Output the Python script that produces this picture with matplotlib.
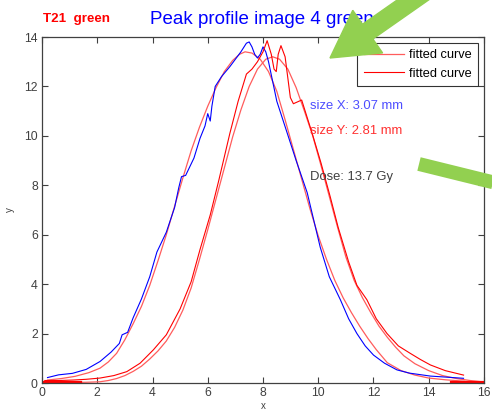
import matplotlib
matplotlib.use("Agg")
import matplotlib.pyplot as plt
from matplotlib.patches import FancyArrow
from matplotlib.lines import Line2D
from matplotlib.transforms import Affine2D

plt.rcParams['font.family'] = ['Liberation Sans', 'DejaVu Sans']

# measured profile X (blue)
meas_x_x = [0.2, 0.6, 1.1, 1.6, 2.1, 2.5, 2.8, 2.9, 3.1, 3.3, 3.6, 3.9, 4.16, 4.5, 4.8, 4.95,
            5.05, 5.2, 5.5, 5.72, 5.9, 6.0, 6.09, 6.15, 6.27, 6.5, 6.8, 7.0, 7.2, 7.4, 7.5,
            7.6, 7.7, 7.8, 7.9, 8.0, 8.1, 8.2, 8.5, 8.88, 9.2, 9.6, 10.07, 10.4, 10.8, 11.1,
            11.4, 11.7, 12.0, 12.4, 12.85, 13.3, 14.06, 14.6, 15.26]
meas_x_y = [0.22, 0.33, 0.39, 0.55, 0.87, 1.25, 1.6, 1.95, 2.05, 2.64, 3.4, 4.3, 5.3, 6.1, 7.1, 7.9,
            8.35, 8.4, 9.1, 9.9, 10.4, 10.9, 10.6, 11.2, 12.0, 12.4, 12.8, 13.1, 13.4, 13.75, 13.8,
            13.6, 13.3, 13.15, 13.3, 13.6, 13.4, 13.0, 11.4, 10.1, 9.0, 7.7, 5.5, 4.3, 3.37, 2.6,
            2.0, 1.5, 1.13, 0.8, 0.53, 0.4, 0.28, 0.24, 0.19]

# fitted curve X
fit_x_x = [0.2, 0.7, 1.2, 1.7, 2.1, 2.4, 2.7, 3.0, 3.3, 3.6, 3.9, 4.2, 4.5, 4.8, 5.1, 5.4, 5.7,
           6.0, 6.3, 6.6, 6.9, 7.15, 7.35, 7.6, 7.9, 8.2, 8.5, 8.8, 9.1, 9.4, 9.7, 10.0, 10.3,
           10.6, 10.9, 11.2, 11.5, 11.8, 12.1, 12.5, 13.0, 13.5, 14.0, 14.6, 15.3]
fit_x_y = [0.12, 0.18, 0.27, 0.42, 0.6, 0.85, 1.2, 1.75, 2.4, 3.1, 3.95, 4.95, 6.0, 7.15, 8.3,
           9.4, 10.35, 11.2, 11.95, 12.6, 13.05, 13.3, 13.4, 13.35, 13.1, 12.6, 11.8, 10.65,
           9.45, 8.25, 7.05, 5.95, 5.0, 4.15, 3.45, 2.85, 2.3, 1.8, 1.35, 0.82, 0.5, 0.32, 0.2,
           0.13, 0.07]

# measured profile Y (red)
meas_y_x = [0.1, 0.6, 1.13, 1.6, 2.1, 2.6, 3.07, 3.55, 4.03, 4.5, 5.0, 5.4, 5.72, 6.09, 6.4, 6.8,
            7.1, 7.4, 7.6, 7.8, 8.0, 8.15, 8.3, 8.4, 8.48, 8.55, 8.65, 8.8, 8.99, 9.1, 9.4, 9.78,
            10.1, 10.43, 10.72, 11.1, 11.4, 11.76, 12.1, 12.49, 12.9, 13.33, 13.7, 14.06, 14.6,
            15.26]
meas_y_y = [0.1, 0.1, 0.12, 0.15, 0.2, 0.3, 0.46, 0.8, 1.34, 1.95, 3.0, 4.1, 5.4, 6.8, 8.2, 10.1,
            11.4, 12.5, 12.7, 13.0, 13.4, 13.85, 13.3, 12.7, 12.6, 13.3, 13.65, 13.2, 11.55, 11.3,
            11.45, 10.1, 8.9, 7.55, 6.3, 4.9, 3.95, 3.37, 2.6, 2.0, 1.5, 1.2, 0.95, 0.73, 0.5,
            0.32]

# fitted curve Y
fit_y_x = [0.0, 1.0, 1.6, 2.1, 2.4, 2.7, 3.0, 3.3, 3.6, 3.9, 4.2, 4.5, 4.8, 5.1, 5.4, 5.7, 6.0,
           6.3, 6.6, 6.9, 7.2, 7.5, 7.8, 8.1, 8.35, 8.6, 8.9, 9.2, 9.5, 9.8, 10.1, 10.4, 10.7,
           11.0, 11.3, 11.6, 11.9, 12.2, 12.5, 12.8, 13.1, 13.5, 14.0, 14.5, 15.0, 15.5, 16.0]
fit_y_y = [0.02, 0.02, 0.03, 0.05, 0.1, 0.18, 0.3, 0.47, 0.68, 0.97, 1.3, 1.7, 2.25, 2.95, 3.85,
           5.0, 6.2, 7.45, 8.7, 9.95, 11.05, 12.0, 12.7, 13.1, 13.2, 13.1, 12.7, 11.95, 11.0,
           10.0, 8.8, 7.55, 6.3, 5.1, 4.15, 3.45, 2.85, 2.3, 1.85, 1.45, 1.1, 0.78, 0.5, 0.3,
           0.18, 0.1, 0.04]

# near-zero red segments along the bottom axis
base_left_x = [0.0, 1.4]
base_left_y = [0.03, 0.03]
base_right_x = [14.8, 16.0]
base_right_y = [0.03, 0.03]

xticks = [0, 2, 4, 6, 8, 10, 12, 14, 16]
yticks = [0, 2, 4, 6, 8, 10, 12, 14]

W, H = 492, 416
fig = plt.figure(figsize=(W / 100, H / 100), dpi=100)
ax = fig.add_axes([42 / W, 1 - 383 / H, (484 - 42) / W, (383 - 37) / H])

pale = '#ff5c5c'
ax.plot(fit_x_x, fit_x_y, color=pale, lw=0.9, label='fitted curve')
ax.plot(fit_y_x, fit_y_y, color=pale, lw=0.9)
ax.plot(meas_x_x, meas_x_y, color='#0000ff', lw=0.8)
ax.plot(meas_y_x, meas_y_y, color='#ff0000', lw=0.8, label='fitted curve')
ax.plot(base_left_x, base_left_y, color='#ff0000', lw=1.6)
ax.plot(base_right_x, base_right_y, color='#ff0000', lw=1.6)

ax.set_xlim(0, 16)
ax.set_ylim(0, 14)
ax.set_xticks(xticks)
ax.set_yticks(yticks)
ax.tick_params(direction='in', top=True, right=True, length=4, width=0.8,
               labelsize=8.8, colors='#404040', pad=3)
for sp in ax.spines.values():
    sp.set_color('#404040')
    sp.set_linewidth(0.9)
ax.set_xlabel('x', fontsize=7, color='#404040', labelpad=1)
ax.set_ylabel('y', fontsize=7, color='#404040', labelpad=7)

ax.text(9.71, 11.2, 'size X: 3.07 mm', color='#4d4dff', fontsize=9.4, va='center')
ax.text(9.71, 10.2, 'size Y: 2.81 mm', color='#ff3030', fontsize=9.4, va='center')
ax.text(9.71, 8.35, 'Dose: 13.7 Gy', color='#404040', fontsize=9.4, va='center')

leg = ax.legend(loc='upper right', bbox_to_anchor=(478 / W, 1 - 43 / H),
                bbox_transform=fig.transFigure, borderaxespad=0, fancybox=False,
                fontsize=9.2, handlelength=3.2, handletextpad=0.35, labelspacing=0.5,
                borderpad=0.5)
leg.get_frame().set_edgecolor('black')
leg.get_frame().set_linewidth(0.8)

fig.text(150 / W, 1 - 19 / H, 'Peak profile image 4 green', color='#0000ff',
         fontsize=13.5, va='center', ha='left')
fig.text(43 / W, 1 - 19 / H, 'T21  green', color='#ff0000', fontsize=9.6,
         fontweight='bold', va='center', ha='left')

# green pointer arrows drawn over the chart (pixel coords, origin top-left)
px = Affine2D().scale(1 / W, -1 / H).translate(0, 1) + fig.transFigure
green = '#92d050'
arrow = FancyArrow(430, -12, -100, 70, width=18, head_width=52, head_length=46,
                   length_includes_head=True, color=green, transform=px, zorder=10)
fig.add_artist(arrow)
bar = Line2D([419, 500], [164, 184], color=green, lw=10, solid_capstyle='butt',
             transform=px, zorder=10)
fig.add_artist(bar)

fig.savefig('out.png', dpi=100)
